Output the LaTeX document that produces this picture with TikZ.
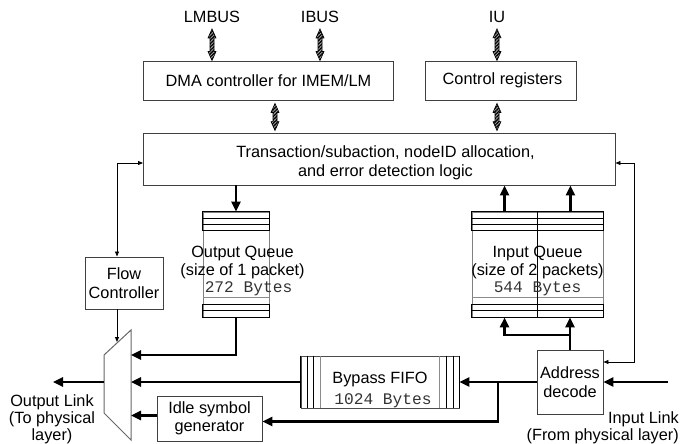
\documentclass[tikz,border=0pt]{standalone}
\usepackage{fontspec}
\setmainfont{Liberation Sans}
\setmonofont{Liberation Mono}
\usetikzlibrary{arrows.meta,patterns.meta,calc}

\tikzset{
  every node/.style={font=\fontsize{16.3}{18.5}\selectfont},
  blk/.style={draw=black!75, line width=0.9pt, inner sep=0pt, align=center},
  txt/.style={inner sep=0pt, align=center},
  monotxt/.style={inner sep=0pt, font=\fontsize{16.2}{18}\selectfont\ttfamily, text=black!80},
  bigarrow/.style={line width=2.4pt, line join=miter, -{Triangle[length=10pt,width=9pt]}},
  smallarrow/.style={line width=0.8pt, -{Triangle[length=5pt,width=4pt]}},
  smallarrows/.style={line width=0.8pt, {Triangle[length=5pt,width=4pt]}-{Triangle[length=5pt,width=4pt]}},
  hatchfill/.style={draw=black, line width=0.6pt, preaction={fill=black!35}, pattern color=black,
    pattern={Lines[angle=45,distance=2.4pt,line width=1.3pt]}},
  band/.style={draw=black, line width=0.8pt},
  soft/.style={draw=black!45, line width=0.8pt},
}

% bidirectional hatched bus arrow between two points (top, bottom)
\newcommand\busarrow[2]{%
  \path[hatchfill] let \p1=#1, \p2=#2 in
    (\x1,\y1) -- (\x1+4pt,\y1-9pt) -- (\x1+2pt,\y1-9pt) -- (\x1+2pt,\y2+9pt)
    -- (\x1+4pt,\y2+9pt) -- (\x1,\y2) -- (\x1-4pt,\y2+9pt) -- (\x1-2pt,\y2+9pt)
    -- (\x1-2pt,\y1-9pt) -- (\x1-4pt,\y1-9pt) -- cycle;}

\begin{document}
\begin{tikzpicture}[x=1pt,y=-1pt]
\useasboundingbox (0,0) rectangle (683,444);

% ---- bus labels ----
\node[txt] (lmbus) at (212,17) {LMBUS};
\node[txt] (ibus) at (320,17) {IBUS};
\node[txt] (iu) at (497,17) {IU};

% ---- upper blocks ----
\node[blk, minimum width=250, minimum height=39] (dma) at (268.5,80.5) {DMA controller for IMEM/LM};
\node[blk, minimum width=151, minimum height=39] (ctrl) at (500.5,80.5) {\hspace*{4pt}Control registers};
\node[blk, minimum width=471.5, minimum height=52] (trans) at (379.25,159) {};
\node[txt, font=\fontsize{16.3}{19}\selectfont] (translbl) at (385.5,162.5)
  {Transaction/subaction, nodeID allocation,\\and error detection logic};

% ---- hatched bus arrows ----
\busarrow{([yshift=-6pt]lmbus.south)}{(lmbus.south |- dma.north)}
\busarrow{([yshift=-6pt]ibus.south)}{(ibus.south |- dma.north)}
\busarrow{([yshift=-6pt]iu.south)}{(iu.south |- ctrl.north)}
\coordinate (dmaport) at ($(dma.south)+(6.5,0)$);
\busarrow{([yshift=-3pt]dmaport)}{([yshift=2pt]dmaport |- trans.north)}
\busarrow{([yshift=-3pt]iu |- ctrl.south)}{([yshift=2pt]iu |- trans.north)}

% ---- output queue ----
\node[draw=black!50, line width=0.8pt, minimum width=66, minimum height=105, inner sep=0pt] (oq) at (236,264.5) {};
\draw[band] (oq.north west) rectangle ($(oq.north east)+(0,19)$);
\foreach \d in {6.5,12.5}
  \draw[band] ($(oq.north west)+(0,\d)$) -- ($(oq.north east)+(0,\d)$);
\draw[band] ($(oq.south west)+(0,-13.5)$) rectangle (oq.south east);
\draw[band] ($(oq.south west)+(0,-7)$) -- ($(oq.south east)+(0,-7)$);
\draw[soft] ($(oq.south west)+(0,-20)$) -- ($(oq.south east)+(0,-20)$);
\node[txt] (oqlbl) at (242.5,262.5) {Output Queue\\(size of 1 packet)};
\node[monotxt] (oqsize) at (248.5,288.5) {272 Bytes};

% ---- input queue ----
\node[draw=black!50, line width=0.8pt, minimum width=131, minimum height=105, inner sep=0pt] (iq) at (537.5,264.5) {};
\draw[band] (iq.north west) rectangle ($(iq.north east)+(0,19)$);
\foreach \d in {6.5,12.5}
  \draw[band] ($(iq.north west)+(0,\d)$) -- ($(iq.north east)+(0,\d)$);
\draw[band] ($(iq.south west)+(0,-13.5)$) rectangle (iq.south east);
\draw[band] ($(iq.south west)+(0,-7)$) -- ($(iq.south east)+(0,-7)$);
\draw[soft] ($(iq.south west)+(0,-20)$) -- ($(iq.south east)+(0,-20)$);
\draw[band] (iq.north) -- (iq.south);
\node[txt] (iqlbl) at (537.5,262.5) {Input Queue\\(size of 2 packets)};
\node[monotxt] (iqsize) at (537.5,288.5) {544 Bytes};
\coordinate (iqL) at ($(iq.north west)!.25!(iq.north east)$);
\coordinate (iqR) at ($(iq.north west)!.75!(iq.north east)$);

% ---- lower blocks ----
\node[blk, minimum width=78, minimum height=52] (flow) at (124,283) {Flow\\Controller};
\node[blk, minimum width=66, minimum height=64] (addr) at (570,382) {Address\\decode};
\node[blk, minimum width=105, minimum height=45] (idle) at (209.5,418.5) {Idle symbol\\generator};
\node[draw=black!70, line width=0.8pt, minimum width=158, minimum height=52, inner sep=0pt] (byp) at (380,382) {};
\foreach \d in {0,6.5,13}{
  \draw[band] ($(byp.north west)+(\d,0)$) -- ($(byp.south west)+(\d,0)$);
  \draw[band] ($(byp.north east)+(-\d,0)$) -- ($(byp.south east)+(-\d,0)$);}
\draw[soft] ($(byp.north west)+(20,0)$) -- ($(byp.south west)+(20,0)$);
\draw[soft] ($(byp.north east)+(-20,0)$) -- ($(byp.south east)+(-20,0)$);
\node[txt] (byplbl) at (380,379) {Bypass FIFO};
\node[monotxt] (bypsize) at (383,400.5) {1024 Bytes};

% ---- output multiplexer ----
\coordinate (mtl) at (104,355);
\coordinate (mtr) at (131,330);
\coordinate (mbr) at (131,440);
\coordinate (mbl) at (104,413);
\draw[draw=black!60, line width=1pt] (mtl) -- (mtr) -- (mbr) -- (mbl) -- cycle;

% ---- link labels ----
\node[txt, font=\fontsize{16.3}{17}\selectfont] (outlbl) at (52,419.5) {Output Link\\(To physical\\layer)};
\node[txt, anchor=east, align=right, font=\fontsize{16.3}{17}\selectfont] (inlbl) at (679,427.5)
  {Input Link\\(From physical layer)};

% ---- connectors ----
\coordinate (muxq) at (131,355);
\coordinate (outl) at (53,382);
\coordinate (inl) at (668,382);
\coordinate (tap) at (498,382);
\coordinate (fm) at (117,342);
\coordinate (fl) at (117,163);
\coordinate (fr) at (634,163);
\coordinate (fr2) at (634,362);

\draw[bigarrow] (trans.south -| oq.north) -- (oq.north);
\draw[bigarrow] (oq.south) |- (muxq);
\draw[bigarrow] (iq.north -| iqL) -- (trans.south -| iqL);
\draw[bigarrow] (iq.north -| iqR) -- (trans.south -| iqR);
\draw[bigarrow] (addr.north) -- (addr.north |- iq.south);
\coordinate (split) at ($(addr.north)+(0,-14.5)$);
\draw[bigarrow] (split) -| (iq.south -| iqL);
\draw[bigarrow] (inl) -- (addr.east);
\draw[bigarrow] (addr.west) -- (byp.east);
\draw[bigarrow] (tap) |- ([yshift=-3pt]idle.east);
\draw[bigarrow] (byp.west) -- (byp.west -| mtr);
\draw[bigarrow] ([yshift=3pt]idle.west) -- ([yshift=3pt]idle.west -| mtr);
\draw[bigarrow] (byp.west -| mtl) -- (outl);

\draw[smallarrows] (flow.north -| fl) |- (trans.west |- fl);
\draw[smallarrow] (flow.south -| fl) -- (fm);
\draw[smallarrows] (trans.east |- fr) -| (fr2) -- (addr.east |- fr2);
\end{tikzpicture}
\end{document}
